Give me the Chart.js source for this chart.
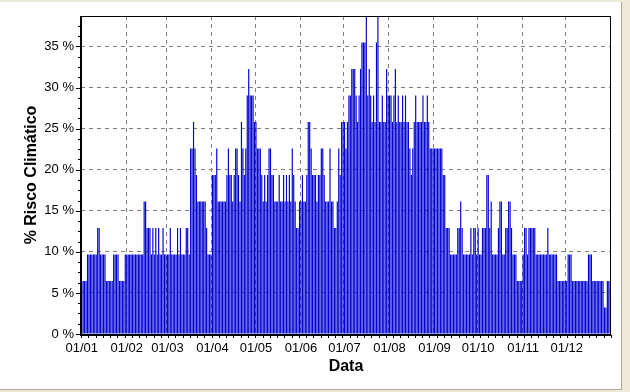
<!DOCTYPE html>
<html>
<head>
<meta charset="utf-8">
<script src="https://cdn.jsdelivr.net/npm/chart.js@4"></script>
<style>
  html, body { margin: 0; padding: 0; background: #ece9d8; }
  #painel { position: absolute; left: 0; top: 2px; width: 621px; height: 387px; background: #fff;
            border-right: 1px solid #aca899; border-bottom: 1px solid #aca899; }
  canvas { position: absolute; left: 0; top: 0; }
</style>
</head>
<body>
<div id="painel"></div>
<canvas id="grafico" width="630" height="392"></canvas>
<script>
document.addEventListener("DOMContentLoaded", function() {
    // 31 anos de série: cada dia = nº de anos com ocorrência / 31
    const anos = 31;
    const rotulosMeses = ['01/01', '01/02', '01/03', '01/04', '01/05', '01/06', '01/07', '01/08', '01/09', '01/10', '01/11', '01/12'];
    const diasPorMes = [31, 28, 31, 30, 31, 30, 31, 31, 30, 31, 30, 31];
    const ticksY = [0, 5, 10, 15, 20, 25, 30, 35];

    const jan = [2,2,2,2,3,3,3,3,3,3,3,4,4,3,3,3,3,2,2,2,2,2,3,3,3,3,2,2,2,2,3];
    const fev = [3,3,3,3,3,3,3,3,3,3,3,3,5,5,4,4,4,3,4,3,4,3,4,3,3,4,3,3];
    const mar = [3,3,4,3,3,3,3,4,3,4,3,3,3,4,4,3,7,7,8,7,6,5,5,5,5,5,5,4,3,3,3];
    const abr = [6,6,6,7,5,5,5,5,5,5,6,7,6,6,5,6,7,7,6,5,8,7,6,7,9,10,9,9,9,8];
    const mai = [8,7,7,7,6,5,6,5,6,7,7,6,6,5,5,5,6,5,5,6,5,6,5,6,5,7,6,5,4,4,5];
    const jun = [5,6,5,5,6,8,8,7,6,6,6,5,6,6,7,7,6,5,5,5,7,5,5,4,4,5,7,6,8,8];
    const jul = [8,7,8,9,9,10,10,10,9,8,9,10,11,11,11,12,9,10,9,8,9,8,11,12,8,8,9,8,8,10,9];
    const ago = [9,9,8,9,10,8,9,8,8,9,8,9,8,8,7,6,7,8,9,8,8,8,8,9,8,8,9,8,7,7,7];
    const set = [7,7,7,7,7,7,6,6,4,4,4,3,3,3,3,3,4,4,5,4,3,3,3,3,3,4,3,4,4,3];
    const out = [4,3,3,4,4,4,6,6,4,5,3,3,3,3,4,5,5,3,3,4,4,5,5,4,3,3,3,2,2,2,2];
    const nov = [3,4,4,3,4,4,4,4,4,3,3,3,3,3,3,3,3,4,3,3,3,3,3,3,2,2,2,2,2,2];
    const dez = [2,3,3,3,2,2,2,2,2,2,2,2,2,2,2,3,3,3,2,2,2,2,2,2,2,2,1,1,2,2,2];

    const ocorrencias = [].concat(jan, fev, mar, abr, mai, jun, jul, ago, set, out, nov, dez);
    const risco = ocorrencias.map(n => n / anos * 100);

    const rotulos = [];
    const inicioMes = new Map();
    diasPorMes.forEach((n, m) => {
        inicioMes.set(rotulos.length, rotulosMeses[m]);
        for (let d = 1; d <= n; d++) {
            rotulos.push(String(d).padStart(2, '0') + '/' + String(m + 1).padStart(2, '0'));
        }
    });

    // moldura, eixos e marcas menores
    const moldura = {
        id: 'moldura',
        afterDraw(chart) {
            const c = chart.ctx, a = chart.chartArea;
            const y = chart.scales.y;
            c.save();
            c.strokeStyle = '#000';
            c.lineWidth = 1;
            c.strokeRect(a.left + 0.5, a.top + 0.5, a.right - a.left - 1, a.bottom - a.top);
            c.lineWidth = 2;
            c.beginPath();
            c.moveTo(a.left, a.top); c.lineTo(a.left, a.bottom + 1);
            c.lineTo(a.right, a.bottom + 1);
            c.stroke();
            c.lineWidth = 1;
            c.beginPath();
            for (let v = 0; v <= y.max; v += 1.25) {
                const py = Math.round(y.getPixelForValue(v)) + 0.5;
                const len = (v % 5 === 0) ? 5 : 3;
                c.moveTo(a.left - len, py); c.lineTo(a.left, py);
            }
            for (let i = 0; i <= rotulos.length; i += 5) {
                const px = Math.round(a.left + (a.right - a.left) * i / rotulos.length) + 0.5;
                c.moveTo(px, a.bottom + 1); c.lineTo(px, a.bottom + 4);
            }
            c.stroke();
            c.restore();
        }
    };

    new Chart(document.getElementById('grafico'), {
        type: 'bar',
        data: {
            labels: rotulos,
            datasets: [{
                label: '% Risco Climático',
                data: risco,
                backgroundColor: '#0000d2',
                borderWidth: 0,
                barPercentage: 1,
                categoryPercentage: 0.8
            }]
        },
        options: {
            responsive: false,
            animation: false,
            layout: { padding: { left: 0, right: 19, top: 16, bottom: 0 } },
            plugins: { legend: { display: false }, tooltip: { enabled: false } },
            scales: {
                x: {
                    afterFit: s => { s.height = 58; },
                    border: { display: false, dash: [4, 4] },
                    grid: {
                        offset: true,
                        drawTicks: false,
                        color: ctx => (ctx.index > 0 && inicioMes.has(ctx.index)) ? '#808080' : 'transparent',
                        lineWidth: 1
                    },
                    ticks: {
                        autoSkip: false,
                        maxRotation: 0,
                        padding: 7,
                        color: '#000',
                        font: { family: 'Liberation Sans, Arial, sans-serif', size: 13 },
                        callback: (v, i) => inicioMes.get(i) || ''
                    },
                    title: {
                        display: true,
                        text: 'Data',
                        color: '#000',
                        padding: { top: 0, bottom: 16 },
                        font: { family: 'Liberation Sans, Arial, sans-serif', size: 16, weight: 'bold' }
                    }
                },
                y: {
                    min: 0,
                    max: 12 / anos * 100,
                    afterFit: s => { s.width = 81; },
                    afterBuildTicks: s => { s.ticks = ticksY.map(v => ({ value: v })); },
                    border: { display: false, dash: [4, 4] },
                    grid: {
                        drawTicks: false,
                        color: ctx => ctx.tick && ctx.tick.value > 0 ? '#808080' : 'transparent',
                        lineWidth: 1
                    },
                    ticks: {
                        padding: 7,
                        color: '#000',
                        font: { family: 'Liberation Sans, Arial, sans-serif', size: 13 },
                        callback: v => v + ' %'
                    },
                    title: {
                        display: true,
                        text: '% Risco Climático',
                        color: '#000',
                        padding: { top: 22, bottom: 0 },
                        font: { family: 'Liberation Sans, Arial, sans-serif', size: 16, weight: 'bold' }
                    }
                }
            }
        },
        plugins: [moldura]
    });
});
</script>
</body>
</html>
